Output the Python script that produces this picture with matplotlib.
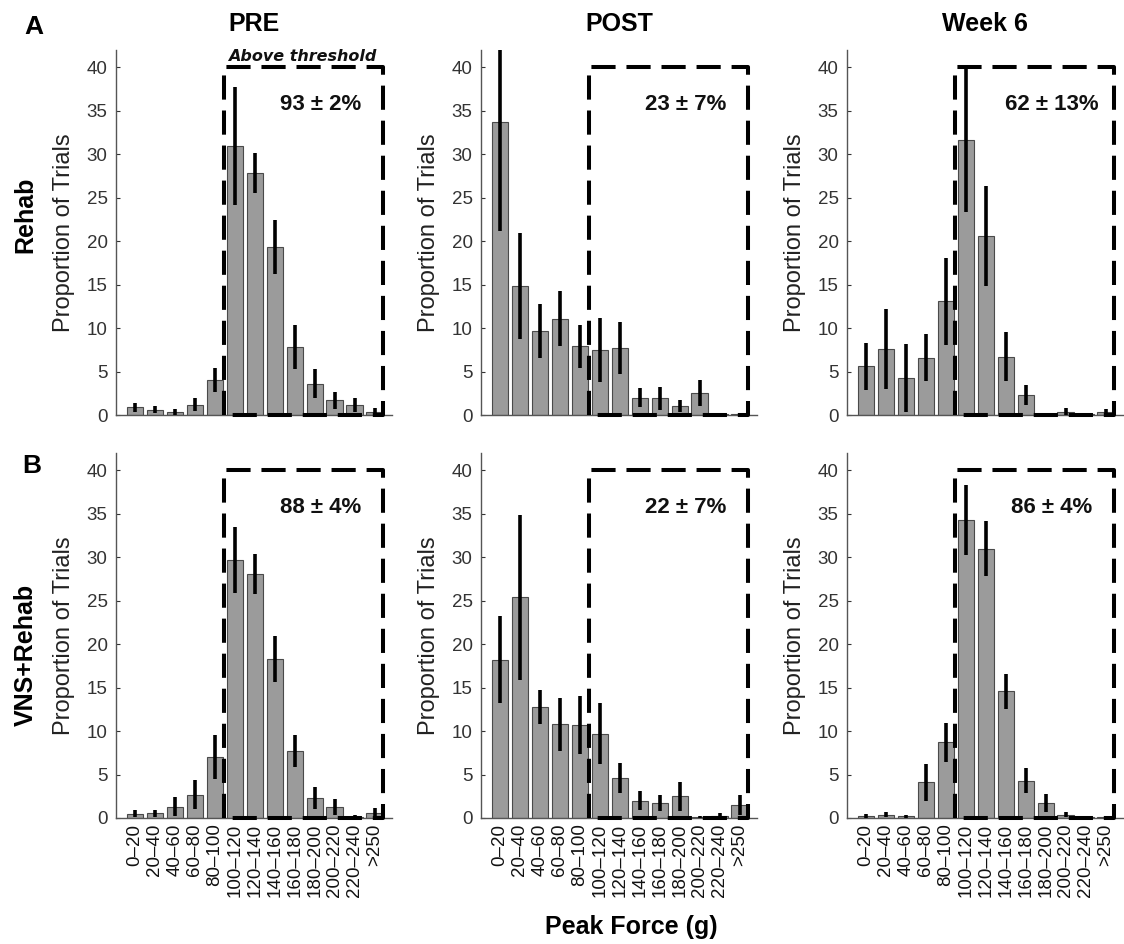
import matplotlib
matplotlib.use("Agg")
import matplotlib.pyplot as plt
import numpy as np

plt.rcParams['font.family'] = ['Liberation Sans', 'DejaVu Sans']

# ---------------- data ----------------
categories = ["0–20", "20–40", "40–60", "60–80", "80–100", "100–120", "120–140",
              "140–160", "160–180", "180–200", "200–220", "220–240", ">250"]

col_titles = ["PRE", "POST", "Week 6"]
row_labels = ["Rehab", "VNS+Rehab"]
panel_letters = ["A", "B"]

rehab_pre = [0.9, 0.6, 0.35, 1.2, 4.0, 31.0, 27.8, 19.3, 7.8, 3.6, 1.7, 1.15, 0.35]
rehab_pre_err = [0.5, 0.4, 0.3, 0.7, 1.4, 6.8, 2.3, 3.1, 2.5, 1.7, 1.0, 0.8, 0.4]
rehab_post = [33.7, 14.8, 9.7, 11.1, 7.9, 7.5, 7.7, 2.0, 1.9, 1.0, 2.5, 0.1, 0.1]
rehab_post_err = [12.5, 6.1, 3.1, 3.2, 2.5, 3.7, 3.0, 1.1, 1.3, 0.7, 1.5, 0.1, 0.1]
rehab_wk6 = [5.6, 7.6, 4.3, 6.6, 13.1, 31.7, 20.6, 6.7, 2.3, 0.1, 0.35, 0.1, 0.3]
rehab_wk6_err = [2.7, 4.6, 3.9, 2.7, 5.0, 8.3, 5.8, 2.8, 1.1, 0.15, 0.4, 0.1, 0.4]

vns_pre = [0.5, 0.55, 1.3, 2.7, 7.0, 29.7, 28.1, 18.3, 7.7, 2.3, 1.3, 0.1, 0.55]
vns_pre_err = [0.4, 0.4, 1.1, 1.7, 2.5, 3.8, 2.3, 2.7, 1.8, 1.3, 0.9, 0.2, 0.6]
vns_post = [18.2, 25.4, 12.8, 10.8, 10.7, 9.7, 4.6, 2.0, 1.7, 2.5, 0.1, 0.25, 1.5]
vns_post_err = [5.0, 9.5, 1.95, 3.05, 3.3, 3.5, 1.7, 1.1, 0.9, 1.7, 0.1, 0.3, 1.1]
vns_wk6 = [0.2, 0.4, 0.2, 4.1, 8.7, 34.3, 31.0, 14.6, 4.3, 1.7, 0.4, 0.1, 0.1]
vns_wk6_err = [0.3, 0.3, 0.2, 2.1, 2.25, 4.0, 3.2, 2.0, 1.45, 1.05, 0.3, 0.1, 0.1]

above_pct = [["93", "23", "62"], ["88", "22", "86"]]
above_sem = [["2", "7", "13"], ["4", "7", "4"]]

threshold_box_x = (5.45, 13.4)
threshold_box_top = 40

values = [[rehab_pre, rehab_post, rehab_wk6], [vns_pre, vns_post, vns_wk6]]
errors = [[rehab_pre_err, rehab_post_err, rehab_wk6_err],
          [vns_pre_err, vns_post_err, vns_wk6_err]]

# ---------------- figure ----------------
W, H = 1124, 944
fig = plt.figure(figsize=(W / 100, H / 100), dpi=100)

lefts = [116, 481, 847]
tops = [50, 453]
aw, ah = 276, 365

x = np.arange(1, len(categories) + 1)
bar_color = "#9b9b9b"
edge_color = "#4a4a4a"
tick_color = "#333333"

for r in range(2):
    for c in range(3):
        ax = fig.add_axes([lefts[c] / W, 1 - (tops[r] + ah) / H, aw / W, ah / H])
        ax.bar(x, values[r][c], width=0.82, color=bar_color, edgecolor=edge_color,
               linewidth=0.8, zorder=2)
        ax.errorbar(x, values[r][c], yerr=errors[r][c], fmt="none", ecolor="black",
                    elinewidth=2.6, capsize=0, zorder=3)
        x0, x1 = threshold_box_x
        ax.plot([x0, x0, x1, x1, x0], [0, threshold_box_top, threshold_box_top, 0, 0],
                color="black", lw=2.9, linestyle=(0, (6, 2.7)), zorder=4,
                clip_on=False, solid_capstyle="butt", dash_capstyle="butt")
        ax.text(10.3, 35.7, f"{above_pct[r][c]} ± {above_sem[r][c]}%",
                ha="center", va="center", fontsize=16, fontweight="bold",
                color="#111111", zorder=5)
        if r == 0 and c == 0:
            ax.text(9.4, 40.4, "Above threshold", ha="center", va="bottom",
                    fontsize=11.5, fontweight="bold", fontstyle="italic",
                    family="DejaVu Sans", color="#111111", clip_on=False)
        ax.set_xlim(0.05, 13.87)
        ax.set_ylim(0, 42)
        ax.set_yticks(np.arange(0, 41, 5))
        ax.set_xticks(x)
        if r == 1:
            ax.set_xticklabels(categories, rotation=90, fontsize=13.5, color="#111111")
        else:
            ax.set_xticklabels([])
        ax.tick_params(axis="x", length=0, pad=4)
        ax.tick_params(axis="y", direction="in", length=3, width=0.8, colors=tick_color,
                       labelsize=13.5, pad=6)
        for s in ["top", "right"]:
            ax.spines[s].set_visible(False)
        for s in ["left", "bottom"]:
            ax.spines[s].set_color("#555555")
            ax.spines[s].set_linewidth(1.0)
        ax.set_ylabel("Proportion of Trials", fontsize=17, color="#222222")
        ax.yaxis.set_label_coords(-0.15, 0.5)
        if r == 0:
            ax.text(0.5, 1 + 26 / ah, col_titles[c], transform=ax.transAxes,
                    ha="center", va="center", fontsize=18, fontweight="bold")

fig.text(25 / W, 1 - 215 / H, row_labels[0], rotation=90, ha="center", va="center",
         fontsize=18, fontweight="bold")
fig.text(26 / W, 1 - 655 / H, row_labels[1], rotation=90, ha="center", va="center",
         fontsize=18, fontweight="bold")
fig.text(34 / W, 1 - 27 / H, panel_letters[0], ha="center", va="center",
         fontsize=19, fontweight="bold")
fig.text(32 / W, 1 - 466 / H, panel_letters[1], ha="center", va="center",
         fontsize=19, fontweight="bold")
fig.text(631 / W, 1 - 927 / H, "Peak Force (g)", ha="center", va="center",
         fontsize=18, fontweight="bold")

fig.savefig("out.png", dpi=100)
